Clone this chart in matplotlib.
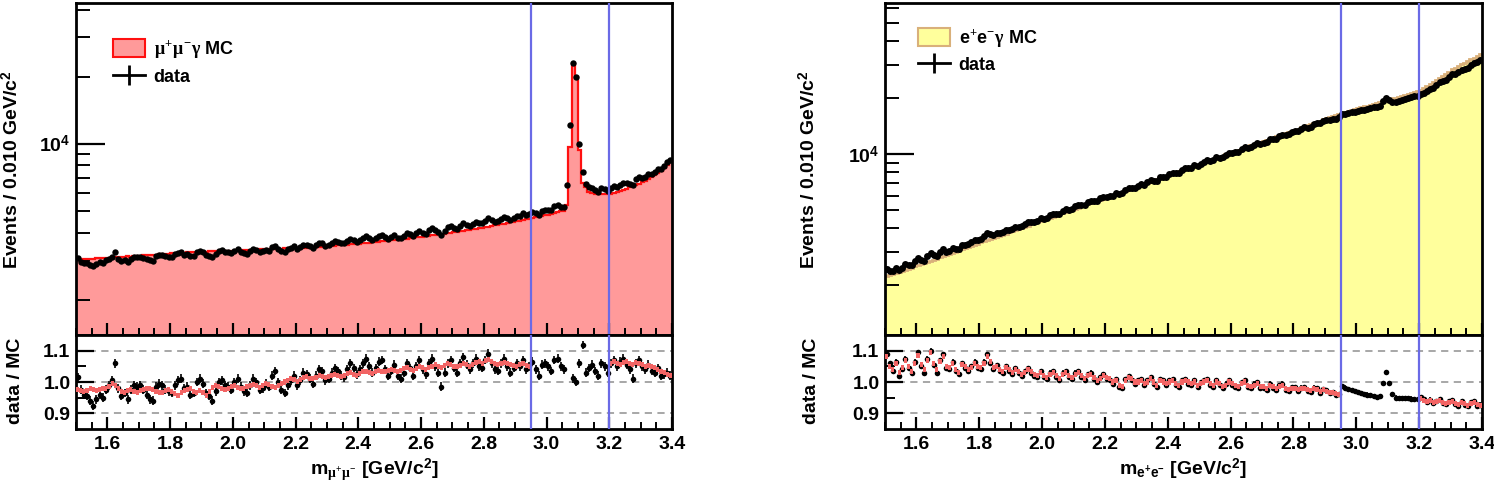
import numpy as np
import matplotlib
matplotlib.use("Agg")
import matplotlib.pyplot as plt
from matplotlib.patches import Patch
from matplotlib.lines import Line2D
from matplotlib.ticker import MultipleLocator, FixedLocator, NullFormatter, FixedFormatter, LogLocator

plt.rcParams['font.family'] = ['Liberation Sans', 'DejaVu Sans']
plt.rcParams['font.weight'] = 'bold'
plt.rcParams['axes.labelweight'] = 'bold'
plt.rcParams['mathtext.fontset'] = 'custom'
plt.rcParams['mathtext.rm'] = 'Liberation Serif'
plt.rcParams['mathtext.it'] = 'Liberation Serif'
plt.rcParams['mathtext.bf'] = 'Liberation Sans:bold'

# ---------------- data ----------------
MASS_LO, MASS_HI, BIN_W = 1.5, 3.4, 0.01
CUT_LO, CUT_HI = 2.95, 3.20

# mu mu gamma MC (events / bin)
mumu_mc = [
    3040, 3030, 3045, 3050, 3060, 3055, 3065, 3070, 3080, 3085,
    3090, 3100, 3095, 3110, 3115, 3120, 3130, 3125, 3140, 3150,
    3155, 3160, 3170, 3175, 3185, 3190, 3200, 3205, 3215, 3220,
    3230, 3235, 3240, 3250, 3255, 3260, 3265, 3270, 3275, 3280,
    3285, 3290, 3295, 3300, 3300, 3305, 3310, 3315, 3320, 3320,
    3325, 3330, 3335, 3340, 3340, 3345, 3350, 3355, 3360, 3360,
    3365, 3370, 3375, 3380, 3385, 3390, 3395, 3400, 3405, 3410,
    3415, 3420, 3425, 3430, 3440, 3445, 3450, 3460, 3465, 3470,
    3480, 3490, 3495, 3505, 3515, 3525, 3530, 3540, 3550, 3560,
    3570, 3580, 3590, 3600, 3615, 3625, 3635, 3650, 3660, 3675,
    3690, 3700, 3715, 3730, 3745, 3760, 3775, 3790, 3805, 3820,
    3840, 3855, 3870, 3890, 3905, 3925, 3945, 3960, 3980, 4000,
    4020, 4040, 4060, 4080, 4100, 4125, 4145, 4165, 4190, 4210,
    4235, 4260, 4285, 4310, 4335, 4360, 4390, 4415, 4440, 4470,
    4500, 4530, 4560, 4590, 4620, 4650, 4685, 4715, 4750, 4785,
    4820, 4860, 4900, 4940, 4980, 5020, 5300, 9700, 22800, 20000,
    9400, 6700, 6400, 6100, 6000, 5980, 5970, 5960, 5960, 5960,
    5980, 6020, 6080, 6150, 6220, 6300, 6380, 6460, 6540, 6620,
    6720, 6830, 6950, 7080, 7230, 7400, 7590, 7800, 8030, 8300,
]
# data / MC for mu mu gamma (black points)
mumu_ratio = [
    1.015, 0.975, 0.960, 0.955, 0.940, 0.925, 0.945, 0.960, 0.950, 0.975,
    0.990, 1.005, 1.060, 0.980, 0.955, 0.965, 0.945, 0.975, 0.990, 0.985,
    0.990, 0.975, 0.960, 0.945, 0.940, 0.985, 0.995, 0.990, 0.975, 0.970,
    0.965, 0.990, 1.005, 1.010, 0.980, 0.985, 0.960, 0.965, 1.000, 1.010,
    0.995, 0.965, 0.955, 0.940, 0.970, 1.000, 1.005, 0.990, 0.985, 0.975,
    1.000, 1.010, 0.985, 0.970, 0.965, 0.990, 1.010, 1.000, 0.975, 0.980,
    0.995, 0.985, 1.020, 1.035, 1.000, 0.975, 0.965, 0.990, 1.005, 1.020,
    0.990, 1.005, 1.030, 1.025, 1.010, 0.995, 1.020, 1.040, 1.035, 1.005,
    1.010, 1.030, 1.045, 1.035, 1.020, 1.015, 1.040, 1.060, 1.045, 1.025,
    1.040, 1.060, 1.075, 1.050, 1.030, 1.045, 1.065, 1.070, 1.040, 1.020,
    1.035, 1.055, 1.020, 1.010, 1.030, 1.060, 1.045, 1.020, 1.050, 1.070,
    1.040, 1.025, 1.060, 1.075, 1.050, 1.030, 0.985, 1.030, 1.060, 1.070,
    1.045, 1.030, 1.060, 1.080, 1.055, 1.040, 1.060, 1.075, 1.050, 1.045,
    1.070, 1.090, 1.060, 1.040, 1.035, 1.060, 1.075, 1.050, 1.030, 1.045,
    1.060, 1.050, 1.070, 1.040, 1.050, 1.065, 1.040, 1.020, 1.055, 1.060,
    1.050, 1.035, 1.070, 1.075, 1.050, 1.040, 1.236, 1.258, 1.012, 1.000,
    1.060, 1.118, 1.030, 1.045, 1.055, 1.035, 1.020, 1.060, 1.050, 1.030,
    1.060, 1.070, 1.050, 1.065, 1.075, 1.055, 1.040, 1.010, 1.060, 1.070,
    1.050, 1.040, 1.055, 1.035, 1.030, 1.045, 1.020, 1.025, 1.030, 1.020,
]
# red band in the mu mu gamma ratio panel (nan = not shown)
nan = float('nan')
mumu_band = [
    0.975, 0.972, 0.970, 0.974, 0.978, 0.976, 0.973, 0.975, 0.978, 0.980,
    0.985, 0.995, 0.990, 0.978, 0.970, 0.968, 0.972, 0.975, 0.970, 0.968,
    0.972, 0.975, 0.978, 0.980, 0.976, 0.970, 0.965, 0.968, 0.972, 0.975,
    0.970, 0.962, 0.958, 0.965, 0.972, 0.975, 0.978, 0.970, 0.968, 0.972,
    0.965, 0.958, 0.970, 0.982, 0.990, 0.985, 0.978, 0.975, 0.980, 0.985,
    0.988, 0.984, 0.980, 0.978, 0.985, 0.990, 0.992, 0.988, 0.984, 0.990,
    0.995, 0.992, 0.985, 0.982, 0.990, 0.996, 1.000, 1.005, 1.010, 1.008,
    1.002, 1.008, 1.015, 1.018, 1.012, 1.010, 1.015, 1.020, 1.018, 1.015,
    1.018, 1.022, 1.025, 1.020, 1.018, 1.022, 1.028, 1.030, 1.025, 1.022,
    1.028, 1.032, 1.035, 1.030, 1.028, 1.034, 1.038, 1.035, 1.032, 1.036,
    1.040, 1.036, 1.032, 1.038, 1.042, 1.045, 1.040, 1.038, 1.044, 1.048,
    1.045, 1.040, 1.046, 1.050, 1.055, 1.050, 1.046, 1.052, 1.058, 1.055,
    1.050, 1.048, 1.054, 1.058, 1.055, 1.050, 1.056, 1.062, 1.065, 1.060,
    1.068, 1.072, 1.065, 1.058, 1.055, 1.060, 1.062, 1.058, 1.055, 1.052,
    1.050, 1.055, 1.058, 1.052, 1.048, nan, nan, nan, nan, nan,
    nan, nan, nan, nan, nan, nan, nan, nan, nan, nan,
    nan, nan, nan, nan, nan, nan, nan, nan, nan, nan,
    1.060, 1.065, 1.058, 1.055, 1.062, 1.066, 1.060, 1.055, 1.062, 1.058,
    1.055, 1.050, 1.052, 1.048, 1.045, 1.040, 1.035, 1.030, 1.025, 1.022,
]

# e e gamma MC (events / bin)
ee_mc = [
    2215, 2245, 2276, 2308, 2340, 2372, 2405, 2438, 2472, 2506,
    2540, 2575, 2611, 2647, 2684, 2721, 2759, 2797, 2836, 2875,
    2924, 2965, 3006, 3048, 3091, 3134, 3178, 3222, 3267, 3313,
    3365, 3412, 3459, 3507, 3556, 3605, 3655, 3706, 3757, 3810,
    3864, 3918, 3973, 4028, 4084, 4141, 4199, 4257, 4316, 4376,
    4436, 4498, 4561, 4624, 4689, 4754, 4820, 4887, 4955, 5024,
    5105, 5176, 5248, 5321, 5395, 5470, 5546, 5623, 5701, 5780,
    5861, 5942, 6025, 6109, 6194, 6280, 6367, 6456, 6546, 6637,
    6730, 6825, 6921, 7018, 7117, 7217, 7319, 7422, 7527, 7633,
    7745, 7853, 7963, 8074, 8187, 8301, 8417, 8534, 8653, 8773,
    8892, 9018, 9145, 9274, 9405, 9537, 9671, 9807, 9945, 10085,
    10230, 10371, 10514, 10659, 10806, 10955, 11106, 11259, 11414, 11571,
    11750, 11913, 12078, 12245, 12415, 12587, 12761, 12938, 13117, 13299,
    13490, 13682, 13877, 14074, 14274, 14477, 14683, 14892, 15104, 15319,
    15520, 15712, 15906, 16103, 16302, 16504, 16708, 16915, 17124, 17336,
    17580, 17775, 17972, 18171, 18372, 18576, 18782, 18990, 19200, 19413,
    19590, 19817, 20046, 20278, 20513, 20750, 20990, 21233, 21479, 21728,
    21980, 22540, 23110, 23700, 24300, 24920, 25550, 26200, 26870, 27550,
    28310, 28920, 29530, 30160, 30800, 31460, 32130, 32810, 33510, 34220,
]
ee_ratio = [
    1.090, 1.060, 1.035, 1.065, 1.020, 1.040, 1.075, 1.045, 1.030, 1.065,
    1.095, 1.050, 1.030, 1.075, 1.100, 1.055, 1.030, 1.070, 1.090, 1.045,
    1.040, 1.065, 1.035, 1.025, 1.060, 1.045, 1.035, 1.050, 1.065, 1.045,
    1.040, 1.065, 1.090, 1.060, 1.040, 1.055, 1.035, 1.030, 1.050, 1.035,
    1.025, 1.045, 1.030, 1.020, 1.035, 1.045, 1.030, 1.020, 1.015, 1.035,
    1.015, 1.010, 1.030, 1.035, 1.015, 1.005, 1.030, 1.035, 1.015, 1.010,
    1.030, 1.035, 1.015, 1.005, 1.025, 1.030, 1.010, 1.000, 1.015, 1.025,
    1.010, 1.005, 0.995, 1.010, 0.985, 0.980, 1.010, 1.020, 1.005, 0.995,
    1.005, 1.010, 0.990, 1.005, 1.015, 0.995, 0.985, 1.010, 1.005, 0.990,
    1.005, 1.010, 0.990, 0.985, 1.005, 1.010, 0.995, 0.990, 1.005, 0.985,
    1.000, 1.005, 1.010, 0.990, 0.985, 1.005, 0.990, 0.980, 0.995, 1.005,
    0.990, 0.985, 0.980, 1.000, 1.005, 0.985, 0.980, 0.995, 1.000, 0.980,
    0.980, 0.975, 0.995, 0.980, 0.975, 0.990, 0.995, 0.975, 0.970, 0.985,
    0.985, 0.970, 0.982, 0.985, 0.970, 0.968, 0.982, 0.980, 0.966, 0.978,
    0.975, 0.965, 0.968, 0.958, 0.962, 0.986, 0.982, 0.978, 0.975, 0.972,
    0.968, 0.965, 0.962, 0.960, 0.958, 0.955, 0.951, 0.955, 0.997, 1.031,
    0.997, 0.962, 0.950, 0.948, 0.949, 0.948, 0.948, 0.947, 0.946, 0.945,
    0.952, 0.945, 0.935, 0.944, 0.932, 0.940, 0.946, 0.933, 0.930, 0.938,
    0.941, 0.930, 0.925, 0.938, 0.928, 0.922, 0.935, 0.938, 0.925, 0.928,
]
ee_band = [
    1.080, 1.050, 1.040, 1.060, 1.030, 1.045, 1.070, 1.050, 1.035, 1.060,
    1.085, 1.055, 1.040, 1.070, 1.095, 1.060, 1.040, 1.065, 1.080, 1.050,
    1.045, 1.060, 1.040, 1.030, 1.055, 1.050, 1.040, 1.045, 1.060, 1.050,
    1.045, 1.060, 1.080, 1.065, 1.045, 1.050, 1.040, 1.035, 1.045, 1.040,
    1.030, 1.040, 1.035, 1.025, 1.030, 1.040, 1.035, 1.025, 1.020, 1.030,
    1.020, 1.015, 1.025, 1.030, 1.020, 1.010, 1.025, 1.030, 1.020, 1.015,
    1.025, 1.030, 1.020, 1.010, 1.020, 1.025, 1.015, 1.005, 1.010, 1.020,
    1.015, 1.010, 1.000, 1.005, 0.990, 0.985, 1.005, 1.015, 1.010, 1.000,
    1.000, 1.005, 0.995, 1.000, 1.010, 1.000, 0.990, 1.005, 1.000, 0.995,
    1.000, 1.005, 0.995, 0.990, 1.000, 1.005, 1.000, 0.995, 1.000, 0.990,
    0.995, 1.000, 1.005, 0.995, 0.990, 1.000, 0.995, 0.985, 0.990, 1.000,
    0.995, 0.990, 0.985, 0.995, 1.000, 0.990, 0.985, 0.990, 0.995, 0.985,
    0.985, 0.980, 0.990, 0.985, 0.980, 0.985, 0.990, 0.980, 0.975, 0.980,
    0.980, 0.975, 0.978, 0.980, 0.975, 0.972, 0.978, 0.975, 0.970, 0.975,
    0.970, 0.968, 0.965, 0.962, 0.960, nan, nan, nan, nan, nan,
    nan, nan, nan, nan, nan, nan, nan, nan, nan, nan,
    nan, nan, nan, nan, nan, nan, nan, nan, nan, nan,
    0.948, 0.942, 0.938, 0.940, 0.935, 0.938, 0.942, 0.936, 0.932, 0.935,
    0.938, 0.932, 0.928, 0.935, 0.930, 0.925, 0.932, 0.935, 0.928, 0.925,
]
mumu_ratio_err = 0.014
ee_ratio_err = 0.007
band_half = 0.008

x_ticks = [1.6, 1.8, 2.0, 2.2, 2.4, 2.6, 2.8, 3.0, 3.2, 3.4]

# ---------------- figure ----------------
W, H = 1494, 486
fig = plt.figure(figsize=(W / 100, H / 100), dpi=100)

def rect(x0, y0, x1, y1):
    return [x0 / W, 1 - y1 / H, (x1 - x0) / W, (y1 - y0) / H]

edges = MASS_LO + BIN_W * np.arange(len(mumu_mc) + 1)
centers = 0.5 * (edges[:-1] + edges[1:])

BLUE = '#6a6ae6'
TICK_FS = 14
LABEL_FS = 14


def draw_panel(xl, xr, mc, ratio, band, fill_c, edge_c, edge_lw, ylim, ms,
               rerr, legend_label, legend_anchor, legend_lh, xlabel, ylab_x):
    mc = np.asarray(mc, float)
    ratio = np.asarray(ratio, float)
    band = np.asarray(band, float)
    data = mc * ratio

    axm = fig.add_axes(rect(xl, 3, xr, 335))
    axr = fig.add_axes(rect(xl, 335, xr, 429))

    axm.stairs(mc, edges, baseline=1.0, fill=True, color=fill_c, zorder=1)
    axm.stairs(mc, edges, baseline=None, color=edge_c, lw=edge_lw, zorder=2)
    axm.plot(centers, data, 'o', color='k', ms=ms, mew=0, zorder=4)
    axm.set_yscale('log')
    axm.set_ylim(*ylim)
    axm.set_xlim(MASS_LO, MASS_HI)

    # ratio
    ok = ~np.isnan(band)
    idx = np.where(ok)[0]
    segs = np.split(idx, np.where(np.diff(idx) > 1)[0] + 1)
    for s in segs:
        axr.stairs(band[s] + band_half, edges[s[0]:s[-1] + 2],
                   baseline=band[s] - band_half, fill=True,
                   color='#f26464', lw=0, zorder=3)
    axr.errorbar(centers, ratio, yerr=rerr, fmt='o', color='k', ms=4.0,
                 mew=0, elinewidth=1.2, capsize=0, zorder=2)
    axr.set_xlim(MASS_LO, MASS_HI)
    axr.set_ylim(0.85, 1.15)

    for ax in (axm, axr):
        ax.axvline(CUT_LO, color=BLUE, lw=1.6, zorder=5)
        ax.axvline(CUT_HI, color=BLUE, lw=1.6, zorder=5)
        for sp in ax.spines.values():
            sp.set_linewidth(2.0)
        ax.xaxis.set_major_locator(FixedLocator(x_ticks))
        ax.xaxis.set_minor_locator(MultipleLocator(0.05))
        ax.tick_params(axis='x', which='major', direction='in', length=9,
                       width=1.6, top=False)
        ax.tick_params(axis='x', which='minor', direction='in', length=5,
                       width=1.4, top=False)

    axm.tick_params(axis='x', labelbottom=False)
    axm.yaxis.set_major_locator(FixedLocator([1e4]))
    axm.yaxis.set_major_formatter(FixedFormatter([r'10$^{\mathbf{4}}$']))
    axm.yaxis.set_minor_locator(LogLocator(base=10, subs=np.arange(2, 10)))
    axm.yaxis.set_minor_formatter(NullFormatter())
    axm.tick_params(axis='y', which='major', direction='in', length=21,
                    width=1.6, right=False, labelsize=TICK_FS, pad=4)
    axm.tick_params(axis='y', which='minor', direction='in', length=10,
                    width=1.4, right=False)

    axr.yaxis.set_major_locator(FixedLocator([0.9, 1.0, 1.1]))
    axr.yaxis.set_major_formatter(FixedFormatter(['0.9', '1.0', '1.1']))
    axr.yaxis.set_minor_locator(FixedLocator([0.95, 1.05]))
    axr.tick_params(axis='y', which='major', direction='in', length=13,
                    width=1.6, right=False, labelsize=TICK_FS, pad=4)
    axr.tick_params(axis='y', which='minor', direction='in', length=7,
                    width=1.4, right=False)
    axr.tick_params(axis='x', labelsize=TICK_FS, pad=5)
    axr.xaxis.set_major_formatter(FixedFormatter(['%.1f' % t for t in x_ticks]))
    axr.grid(axis='y', which='major', color='#a0a0a0', lw=1.3,
             ls=(0, (4, 3)), zorder=0)
    axr.set_axisbelow(True)
    axr.set_xlabel(xlabel, fontsize=LABEL_FS, labelpad=3, fontweight='bold')

    handles = [Patch(facecolor=fill_c, edgecolor=edge_c, lw=1.5),
               Line2D([], [], color='k', lw=2.0, marker='|', ms=14, mew=2.0)]
    fig.legend(handles, [legend_label, 'data'], loc='upper left',
               bbox_to_anchor=(legend_anchor[0] / W, 1 - legend_anchor[1] / H),
               bbox_transform=fig.transFigure, frameon=False, fontsize=13,
               handlelength=1.75, handleheight=1.1, handletextpad=0.5,
               labelspacing=legend_lh, borderpad=0, borderaxespad=0)

    fig.text(ylab_x / W, 1 - 170 / H, r'Events / 0.010 GeV/c$^{\mathbf{2}}$',
             rotation=90, ha='center', va='center', fontsize=LABEL_FS)
    fig.text((ylab_x + 3) / W, 1 - 381 / H, 'data / MC', rotation=90,
             ha='center', va='center', fontsize=LABEL_FS)


draw_panel(76, 672, mumu_mc, mumu_ratio, mumu_band, '#ff9a9a', '#ff1010', 1.6,
           (1390, 42800), 4.6, mumu_ratio_err,
           r'$\mu^{+}\mu^{-}\gamma$ MC', (113, 38), 0.4,
           r'm$_{\mu^{+}\mu^{-}}$ [GeV/c$^{\mathbf{2}}$]', 12)
draw_panel(885, 1482, ee_mc, ee_ratio, ee_band, '#ffff9c', '#d9b07a', 2.0,
           (1077, 64200), 5.0, ee_ratio_err,
           r'e$^{+}$e$^{-}$$\gamma$ MC', (918, 27), 0.35,
           r'm$_{\mathbf{e^{+}e^{-}}}$ [GeV/c$^{\mathbf{2}}$]', 809)

fig.savefig('out.png', dpi=100)
